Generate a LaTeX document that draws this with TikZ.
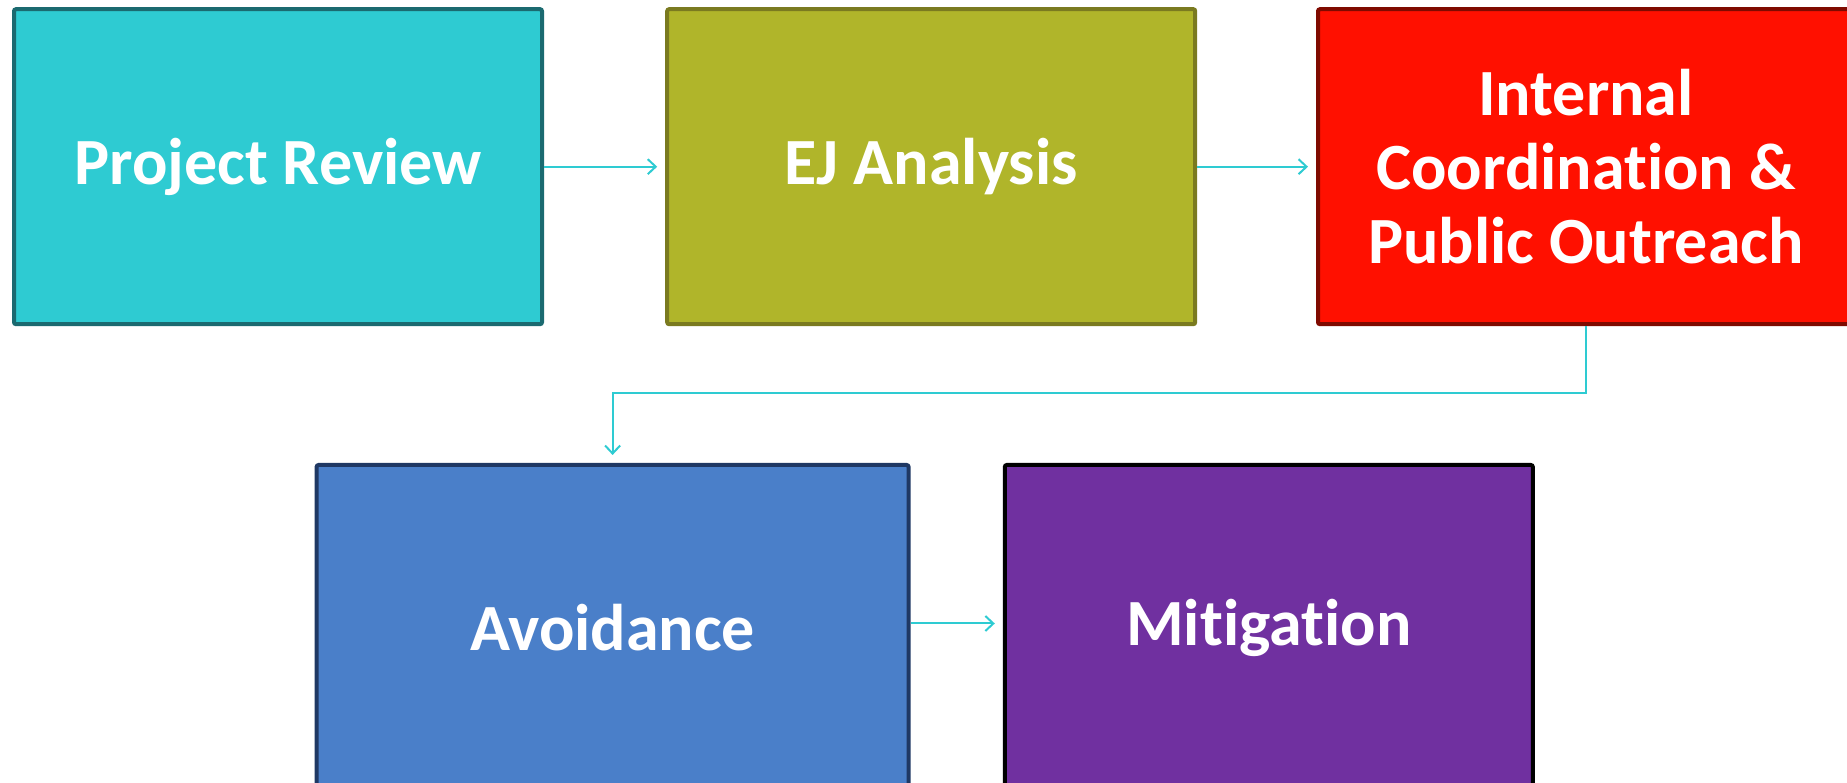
\documentclass[tikz,border=0pt]{standalone}
\usepackage{fontspec}
\setmainfont{Carlito}[Ligatures={NoCommon}]
\usetikzlibrary{arrows.meta}

\definecolor{reviewfill}{RGB}{46,203,210}
\definecolor{reviewline}{RGB}{27,106,112}
\definecolor{analysisfill}{RGB}{176,181,42}
\definecolor{analysisline}{RGB}{122,122,32}
\definecolor{coordfill}{RGB}{255,16,0}
\definecolor{coordline}{RGB}{127,10,0}
\definecolor{avoidfill}{RGB}{74,127,201}
\definecolor{avoidline}{RGB}{31,56,100}
\definecolor{mitigfill}{RGB}{112,48,160}
\definecolor{linkcolor}{RGB}{46,203,210}

\begin{document}
\begin{tikzpicture}[x=1pt,y=1pt,
	stage/.style={draw, line width=4pt, rounded corners=2pt, minimum width=528pt, minimum height=315pt,
		align=center, text=white, font=\fontsize{66}{74}\selectfont\bfseries, inner sep=0pt},
	link/.style={draw=linkcolor, line width=2pt, ->, >={Straight Barb[length=8pt,width=15pt]}, shorten >=8pt}]
	
		\useasboundingbox (0,0) rectangle (1847,782);
		
		% top row
		\node[stage, fill=reviewfill, draw=reviewline] (review) at (278,615.3) {Project Review};
		\node[stage, fill=analysisfill, draw=analysisline] (analysis) at (931.2,615.3) {EJ Analysis};
		\node[stage, fill=coordfill, draw=coordline, minimum width=536pt] (coord) at (1586,615.3) {Internal\\Coordination \&\\Public Outreach};
		
		% bottom row
		\node[stage, fill=avoidfill, draw=avoidline, minimum width=592pt, minimum height=325pt] (avoid) at (612.6,154.5) {Avoidance};
		\node[stage, fill=mitigfill, draw=black, minimum height=325pt] (mitig) at (1268.8,154.5) {Mitigation};
		
		% links
		\draw[link] (review) -- (analysis);
		\draw[link] (analysis) -- (coord);
		\draw[link] (coord.south) -- ++(0,-67.2) -| (avoid.north);
		\draw[link] ([yshift=4pt]avoid.east) -- ([yshift=4pt]mitig.west);
	
	\end{tikzpicture}
\end{document}
